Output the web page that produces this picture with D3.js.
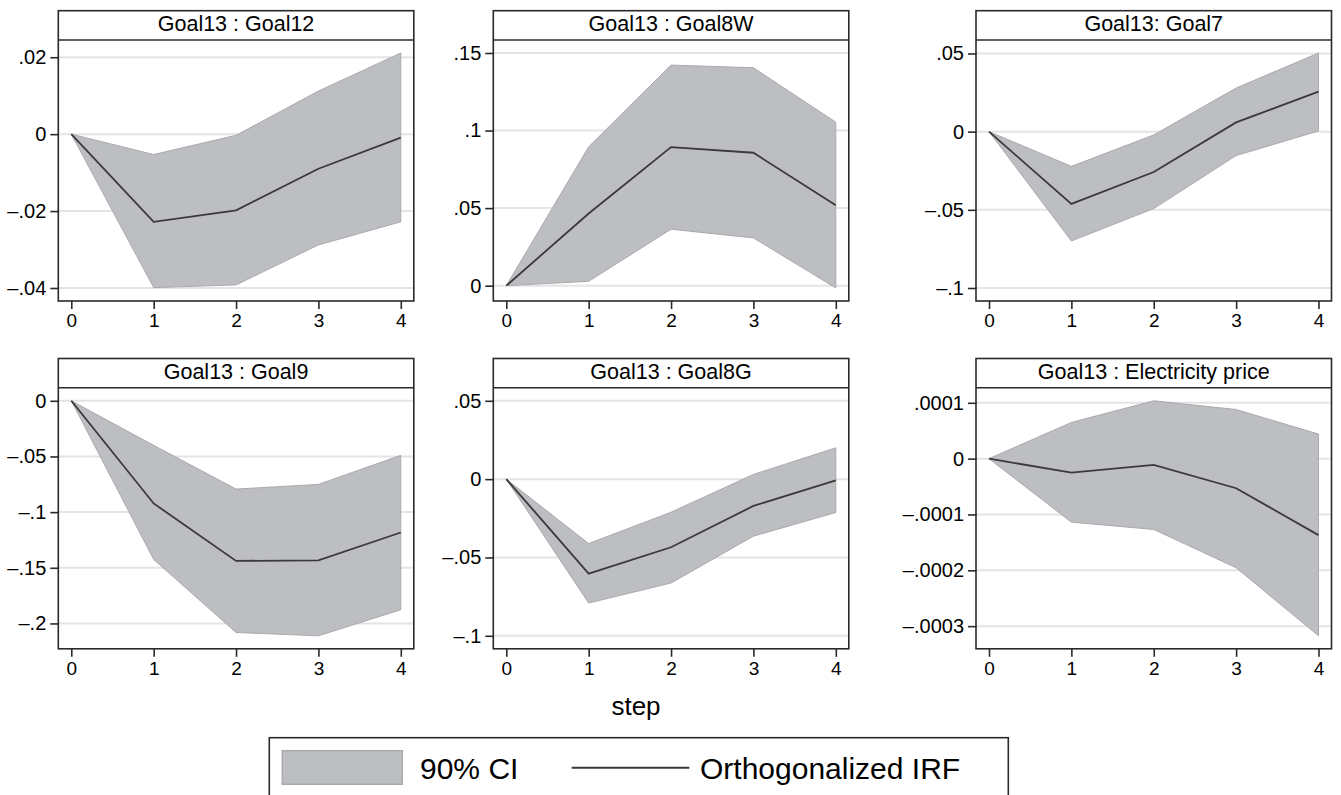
<!DOCTYPE html>
<html>
<head>
<meta charset="utf-8">
<script src="https://cdn.jsdelivr.net/npm/d3@7"></script>
<style>
  html, body { margin: 0; padding: 0; background: #fff; }
  svg { display: block; font-family: 'Liberation Sans', Arial, Helvetica, sans-serif; }
</style>
</head>
<body>
<div id="chart"></div>
<script>
const steps = [0, 1, 2, 3, 4];

const titles = [
  'Goal13 : Goal12',
  'Goal13 : Goal8W',
  'Goal13: Goal7',
  'Goal13 : Goal9',
  'Goal13 : Goal8G',
  'Goal13 : Electricity price',
];

const irf = [
  [0, -0.0228, -0.0198, -0.0090, -0.0009],
  [0, 0.0465, 0.0893, 0.0857, 0.0519],
  [0, -0.0462, -0.0258, 0.0059, 0.0256],
  [0, -0.0922, -0.1438, -0.1434, -0.1183],
  [0, -0.0603, -0.0435, -0.0171, -0.0008],
  [0, -0.000025, -0.0000113, -0.000053, -0.000137],
];

const ciLower = [
  [0, -0.0399, -0.0392, -0.0288, -0.0228],
  [0, 0.0028, 0.0364, 0.0308, -0.0015],
  [0, -0.0699, -0.0492, -0.0153, 0.0004],
  [0, -0.1425, -0.2081, -0.2111, -0.1877],
  [0, -0.0791, -0.0663, -0.0364, -0.0213],
  [0, -0.0001137, -0.0001268, -0.0001954, -0.0003173],
];

const ciUpper = [
  [0, -0.0053, -0.0003, 0.0112, 0.0211],
  [0, 0.0895, 0.1422, 0.1405, 0.1054],
  [0, -0.0222, -0.0021, 0.0279, 0.0503],
  [0, -0.0400, -0.0793, -0.0751, -0.0490],
  [0, -0.0411, -0.0211, 0.0030, 0.0200],
  [0, 0.0000648, 0.0001036, 0.000088, 0.000044],
];

const yTicks = [
  [-0.04, -0.02, 0, 0.02],
  [0, 0.05, 0.1, 0.15],
  [-0.1, -0.05, 0, 0.05],
  [-0.2, -0.15, -0.1, -0.05, 0],
  [-0.1, -0.05, 0, 0.05],
  [-0.0003, -0.0002, -0.0001, 0, 0.0001],
];

const yTickLabels = [
  ['\u2013.04', '\u2013.02', '0', '.02'],
  ['0', '.05', '.1', '.15'],
  ['\u2013.1', '\u2013.05', '0', '.05'],
  ['\u2013.2', '\u2013.15', '\u2013.1', '\u2013.05', '0'],
  ['\u2013.1', '\u2013.05', '0', '.05'],
  ['\u2013.0003', '\u2013.0002', '\u2013.0001', '0', '.0001'],
];

const legendLabels = ['90% CI', 'Orthogonalized IRF'];
const xTitle = 'step';

// layout
const width = 1341;
const height = 795;
const colLeft = [58.3, 493.3, 976];
const rowTop = [10.7, 358.5];
const panelW = 355.5;
const titleH = 29.3;
const plotH = 261;
const inset = 13;

const bandFill = '#bdbec2';
const bandEdge = '#a9aaae';
const lineColor = '#3a3a3a';
const axisColor = '#2a2a2a';
const gridColor = '#e4e4e4';
const textColor = '#000';

const svg = d3
  .select('#chart')
  .append('svg')
  .attr('width', width)
  .attr('height', height);

const drawPanel = (i) => {
  const left = colLeft[i % 3];
  const top = rowTop[Math.floor(i / 3)];
  const plotTop = top + titleH;
  const plotBottom = plotTop + plotH;

  const g = svg.append('g').attr('class', 'panel');

  const x = d3
    .scaleLinear()
    .domain(d3.extent(steps))
    .range([left + inset, left + panelW - inset]);

  const lo = Math.min(d3.min(ciLower[i]), d3.min(yTicks[i]));
  const hi = Math.max(d3.max(ciUpper[i]), d3.max(yTicks[i]));
  const y = d3
    .scaleLinear()
    .domain([lo, hi])
    .range([plotBottom - inset, plotTop + inset]);

  // gridlines
  g.append('g')
    .selectAll('line')
    .data(yTicks[i])
    .enter()
    .append('line')
    .attr('x1', left)
    .attr('x2', left + panelW)
    .attr('y1', d => y(d))
    .attr('y2', d => y(d))
    .attr('stroke', gridColor)
    .attr('stroke-width', 2);

  const rows = steps.map((s, k) => ({ s, lo: ciLower[i][k], hi: ciUpper[i][k], v: irf[i][k] }));

  // confidence band
  g.append('path')
    .datum(rows)
    .attr('fill', bandFill)
    .attr('stroke', bandEdge)
    .attr('stroke-width', 1)
    .attr('d', d3.area().x(d => x(d.s)).y0(d => y(d.lo)).y1(d => y(d.hi)));

  // irf line
  g.append('path')
    .datum(rows)
    .attr('fill', 'none')
    .attr('stroke', lineColor)
    .attr('stroke-width', 1.8)
    .attr('d', d3.line().x(d => x(d.s)).y(d => y(d.v)));

  // frame and title bar
  g.append('rect')
    .attr('x', left)
    .attr('y', top)
    .attr('width', panelW)
    .attr('height', titleH + plotH)
    .attr('fill', 'none')
    .attr('stroke', axisColor)
    .attr('stroke-width', 1.6);

  g.append('line')
    .attr('x1', left)
    .attr('x2', left + panelW)
    .attr('y1', plotTop)
    .attr('y2', plotTop)
    .attr('stroke', axisColor)
    .attr('stroke-width', 1.6);

  g.append('text')
    .attr('x', left + panelW / 2)
    .attr('y', top + 20.5)
    .attr('text-anchor', 'middle')
    .attr('font-size', 21.5)
    .attr('fill', textColor)
    .text(titles[i]);

  // axes
  const yG = g.append('g')
    .attr('transform', `translate(${left},0)`)
    .call(d3.axisLeft(y)
      .tickValues(yTicks[i])
      .tickFormat((d, k) => yTickLabels[i][k])
      .tickSize(8)
      .tickPadding(4));

  const xG = g.append('g')
    .attr('transform', `translate(0,${plotBottom})`)
    .call(d3.axisBottom(x)
      .tickValues(steps)
      .tickFormat(d3.format('d'))
      .tickSize(8)
      .tickPadding(5));

  [yG, xG].forEach(a => {
    a.select('.domain').remove();
    a.selectAll('line').attr('stroke', axisColor).attr('stroke-width', 1.6);
    a.selectAll('text')
      .attr('fill', textColor)
      .style('font-family', "'Liberation Sans', Arial, sans-serif");
  });
  yG.selectAll('text').attr('font-size', 20);
  xG.selectAll('text').attr('font-size', 19);
};

titles.forEach((t, i) => drawPanel(i));

// x axis title
svg.append('text')
  .attr('x', 636)
  .attr('y', 715)
  .attr('text-anchor', 'middle')
  .attr('font-size', 26)
  .attr('fill', textColor)
  .text(xTitle);

// legend
const leg = svg.append('g').attr('class', 'legend');

leg.append('rect')
  .attr('x', 269.3)
  .attr('y', 737.7)
  .attr('width', 739)
  .attr('height', 80)
  .attr('fill', '#fff')
  .attr('stroke', axisColor)
  .attr('stroke-width', 1.6);

leg.append('rect')
  .attr('x', 282.3)
  .attr('y', 750.7)
  .attr('width', 120)
  .attr('height', 33.6)
  .attr('fill', bandFill)
  .attr('stroke', bandEdge)
  .attr('stroke-width', 1.5);

leg.append('text')
  .attr('x', 420)
  .attr('y', 779.3)
  .attr('font-size', 30)
  .attr('fill', textColor)
  .text(legendLabels[0]);

leg.append('line')
  .attr('x1', 571.7)
  .attr('x2', 689.3)
  .attr('y1', 767.7)
  .attr('y2', 767.7)
  .attr('stroke', lineColor)
  .attr('stroke-width', 2);

leg.append('text')
  .attr('x', 700)
  .attr('y', 779.3)
  .attr('font-size', 30)
  .attr('fill', textColor)
  .text(legendLabels[1]);
</script>
</body>
</html>
